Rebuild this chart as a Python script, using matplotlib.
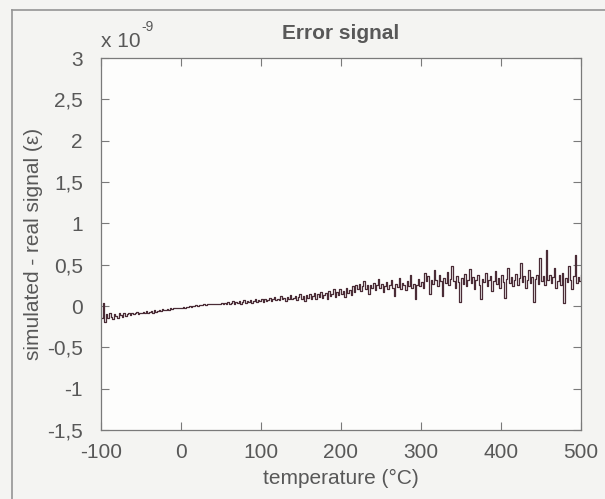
import numpy as np
import matplotlib
matplotlib.use("Agg")
import matplotlib.pyplot as plt
from matplotlib.lines import Line2D

# data: error signal (units of 1e-11, i.e. 0.01 x 1e-9)
temperature = np.arange(-100, 501, 2)
error_centi = [
    -15, 4, -19, -10, -14, -9, -13, -16, -10, -12,
    -14, -9, -11, -13, -8, -12, -10, -9, -11, -8,
    -10, -9, -7, -10, -8, -9, -7, -8, -6, -8,
    -7, -6, -8, -5, -7, -6, -5, -6, -4, -5,
    -5, -4, -5, -3, -4, -3, -3, -2, -3, -2,
    -2, -1, -2, -1, -1, 0, -1, 0, 0, 1,
    0, 1, 1, 1, 2, 1, 2, 2, 2, 3,
    2, 3, 3, 2, 3, 4, 3, 4, 2, 5,
    3, 4, 6, 3, 5, 4, 6, 3, 5, 7,
    4, 6, 5, 7, 4, 6, 8, 5, 7, 6,
    8, 5, 9, 6, 7, 10, 6, 8, 11, 7,
    9, 7, 12, 8, 10, 6, 11, 9, 13, 8,
    10, 12, 7, 11, 14, 9, 12, 6, 13, 10,
    15, 9, 12, 16, 8, 14, 11, 17, 10, 13,
    16, 9, 18, 12, 15, 20, 11, 17, 13, 21,
    14, 18, 11, 22, 16, 19, 13, 24, 17, 25,
    20, 27, 18, 24, 30, 21, 26, 14, 25, 22,
    28, 19, 25, 33, 22, 27, 17, 24, 29, 20,
    26, 31, 22, 12, 27, 23, 34, 21, 28, 25,
    19, 30, 24, 38, 22, 27, 9, 26, 33, 24,
    29, 22, 40, 30, 36, 14, 32, 27, 44, 31,
    24, 37, 30, 12, 34, 28, 41, 25, 33, 48,
    30, 22, 36, 29, 5, 34, 27, 39, 24, 31,
    45, 28, 35, 20, 32, 38, 26, 8, 33, 29,
    40, 24, 31, 36, 18, 30, 42, 27, 34, 22,
    37, 29, 10, 33, 46, 28, 35, 24, 31, 39,
    26, 34, 52, 29, 36, 22, 31, 44, 28, 35,
    5, 33, 38, 27, 58, 30, 36, 25, 68, 32,
    38, 28, 35, 46, 22, 30, 37, 26, 40, 4,
    34, 29, 48, 31, 20, 36, 62, 28, 35, 30,
    38,
]
error_signal = np.array(error_centi) * 0.01   # in units of 1e-9

xticks = [-100, 0, 100, 200, 300, 400, 500]
yticks = [-1.5, -1, -0.5, 0, 0.5, 1, 1.5, 2, 2.5, 3]
ytick_labels = ["-1,5", "-1", "-0,5", "0", "0,5", "1", "1,5", "2", "2,5", "3"]

TEXT = "#585858"
AXIS = "#7a7a7a"
LINE = "#4a2c36"
FS = 15

plt.rcParams['font.family'] = ['Liberation Sans', 'DejaVu Sans']
plt.rcParams['axes.unicode_minus'] = False

fig = plt.figure(figsize=(6.05, 4.99), dpi=100)
fig.patch.set_facecolor('#f4f4f2')

# scanned page frame (left and top edges)
fig.add_artist(Line2D([12 / 605, 12 / 605], [0, 1 - 10 / 499], color='#959595', lw=1.2))
fig.add_artist(Line2D([12 / 605, 1], [1 - 10 / 499, 1 - 10 / 499], color='#959595', lw=1.2))

ax = fig.add_axes([101 / 605, 1 - 430 / 499, 480 / 605, 372 / 499])
ax.set_facecolor('#fdfdfc')

ax.plot(temperature, error_signal, color=LINE, lw=0.9, drawstyle='steps-post')

ax.set_xlim(-100, 500)
ax.set_ylim(-1.5, 3)
ax.set_xticks(xticks)
ax.set_xticklabels([str(t) for t in xticks])
ax.set_yticks(yticks)
ax.set_yticklabels(ytick_labels)

ax.tick_params(direction='in', length=6, width=0.8, color=AXIS, labelcolor=TEXT,
               labelsize=FS, top=True, right=True)
ax.tick_params(axis='x', pad=9)
ax.tick_params(axis='y', pad=13)
for s in ax.spines.values():
    s.set_color(AXIS)
    s.set_linewidth(0.9)

ax.set_xlabel('temperature (°C)', color=TEXT, fontsize=FS, labelpad=5)
ax.set_ylabel('simulated - real signal (ε)', color=TEXT, fontsize=FS, labelpad=3)
ax.set_title('Error signal', color=TEXT, fontsize=FS, fontweight='bold', pad=14)
ax.text(0.0, 1.02, 'x 10', transform=ax.transAxes, color=TEXT,
        fontsize=FS, ha='left', va='bottom')
ax.text(0.084, 1.065, '-9', transform=ax.transAxes, color=TEXT,
        fontsize=10, ha='left', va='bottom')

fig.savefig('out.png', dpi=100, facecolor=fig.get_facecolor())
